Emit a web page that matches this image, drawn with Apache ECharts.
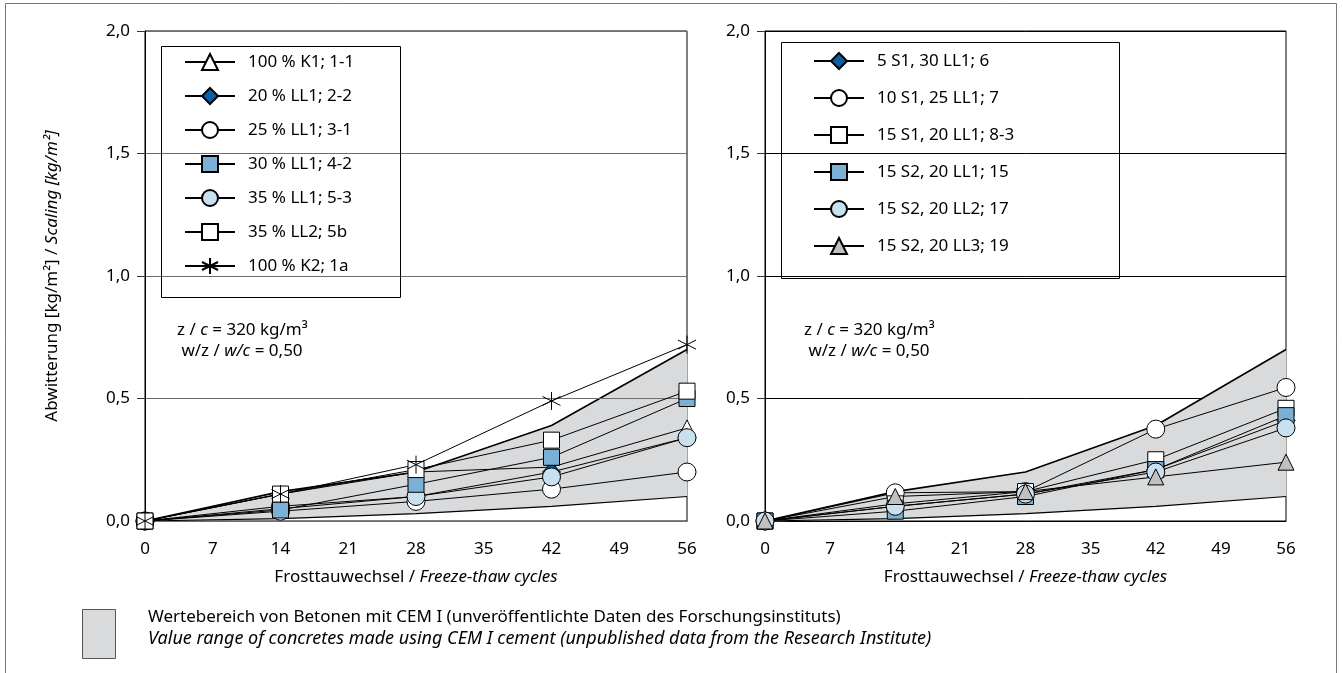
<!DOCTYPE html>
<html>
<head>
<meta charset="utf-8">
<script src="https://cdn.jsdelivr.net/npm/echarts@6/dist/echarts.min.js"></script>
<style>
  html, body { margin: 0; padding: 0; background: #fff; }
  #chart { width: 1343px; height: 673px; }
</style>
</head>
<body>
<div id="chart"></div>
<script>
  // Frosttauwechsel (x)
  var cycles = [0, 14, 28, 42, 56];
  var xTicks = [0, 7, 14, 21, 28, 35, 42, 49, 56];

  // Wertebereich CEM I (grau)
  var bandLower = [0, 0.01, 0.03, 0.06, 0.10];
  var bandUpper = [0, 0.12, 0.20, 0.39, 0.70];

  // linkes Diagramm
  var k1_11   = [0, 0.11, 0.20, 0.22, 0.38];
  var ll1_22  = [0, 0.05, 0.10, 0.20, 0.34];
  var ll1_31  = [0, 0.04, 0.08, 0.13, 0.20];
  var ll1_42  = [0, 0.045, 0.15, 0.26, 0.50];
  var ll1_53  = [0, 0.06, 0.10, 0.18, 0.34];
  var ll2_5b  = [0, 0.11, 0.21, 0.33, 0.53];
  var k2_1a   = [0, 0.11, 0.23, 0.49, 0.72];

  // rechtes Diagramm
  var s1_6    = [0, 0.06, 0.11, 0.21, 0.41];
  var s1_7    = [0, 0.115, 0.12, 0.375, 0.545];
  var s1_83   = [0, 0.07, 0.12, 0.25, 0.46];
  var s2_15   = [0, 0.04, 0.10, 0.21, 0.43];
  var s2_17   = [0, 0.06, 0.11, 0.20, 0.38];
  var s2_19   = [0, 0.10, 0.12, 0.18, 0.24];

  var FONT = 'Noto Sans';
  var FS = 17;
  var star = 'path://M5,0L5,10M0.7,2.5L9.3,7.5M0.7,7.5L9.3,2.5';

  function pts(arr) {
    return cycles.map(function (c, i) { return [c, arr[i]]; });
  }

  function line(name, arr, idx, symbol, fill, size) {
    return {
      name: name,
      type: 'line',
      xAxisIndex: idx,
      yAxisIndex: idx,
      data: pts(arr),
      z: 3,
      symbol: symbol,
      symbolSize: size || 16,
      showAllSymbol: true,
      clip: false,
      lineStyle: { color: '#000', width: 1 },
      itemStyle: { color: fill, borderColor: '#000', borderWidth: 1 },
      emphasis: { disabled: true }
    };
  }

  // grauer Bereich: ein Viereck je Intervall, über die Achsen umgerechnet
  function band(idx) {
    var segs = [];
    for (var i = 0; i < cycles.length - 1; i++) {
      segs.push([cycles[i], cycles[i + 1], bandLower[i], bandLower[i + 1], bandUpper[i], bandUpper[i + 1]]);
    }
    return [{
      type: 'custom', xAxisIndex: idx, yAxisIndex: idx, z: 1, silent: true,
      data: segs,
      encode: { x: [0, 1], y: [2, 3, 4, 5] },
      renderItem: function (params, api) {
        var a = api.coord([api.value(0), api.value(4)]);
        var b = api.coord([api.value(1), api.value(5)]);
        var c = api.coord([api.value(1), api.value(3)]);
        var d = api.coord([api.value(0), api.value(2)]);
        return {
          type: 'polygon',
          shape: { points: [a, b, c, d] },
          style: { fill: '#d9dadc', stroke: '#d9dadc', lineWidth: 0.8 }
        };
      }
    }, {
      type: 'line', xAxisIndex: idx, yAxisIndex: idx, data: pts(bandLower),
      symbol: 'none', z: 1, silent: true, lineStyle: { color: '#000', width: 1.2 }
    }, {
      type: 'line', xAxisIndex: idx, yAxisIndex: idx, data: pts(bandUpper),
      symbol: 'none', z: 1, silent: true, lineStyle: { color: '#000', width: 1.6 }
    }];
  }

  function fmt(v) { return v.toFixed(1).replace('.', ','); }

  var richI = { i: { fontStyle: 'italic', fontFamily: FONT, fontSize: FS, color: '#000' } };

  function xAxis(idx) {
    return {
      type: 'value', gridIndex: idx, min: 0, max: 56, interval: 7,
      axisLine: { show: true, lineStyle: { color: '#000' } },
      axisTick: { show: false },
      splitLine: { show: false },
      axisLabel: { color: '#000', fontFamily: FONT, fontSize: FS, margin: 20,
        customValues: xTicks },
      name: 'Frosttauwechsel / {i|Freeze-thaw cycles}',
      nameLocation: 'middle', nameGap: 48,
      nameTextStyle: { color: '#000', fontFamily: FONT, fontSize: FS, rich: richI }
    };
  }

  function yAxis(idx, gridColor, withName, z) {
    var a = {
      type: 'value', gridIndex: idx, min: 0, max: 2, interval: 0.5, z: z,
      axisLine: { show: true, lineStyle: { color: '#000' } },
      axisTick: { show: true, length: 8, lineStyle: { color: '#333' } },
      splitLine: { show: true, lineStyle: { color: gridColor, width: 1 } },
      axisLabel: { color: '#000', fontFamily: FONT, fontSize: FS, margin: 15, formatter: fmt }
    };
    if (withName) {
      a.name = 'Abwitterung [kg/m²] / {i|Scaling [kg/m²]}';
      a.nameLocation = 'middle';
      a.nameGap = 84;
      a.nameTextStyle = { color: '#000', fontFamily: FONT, fontSize: FS, rich: richI };
    }
    return a;
  }

  var leftNames = ['100 % K1; 1-1', '20 % LL1; 2-2', '25 % LL1; 3-1', '30 % LL1; 4-2',
                   '35 % LL1; 5-3', '35 % LL2; 5b', '100 % K2; 1a'];
  var rightNames = ['5 S1, 30 LL1; 6', '10 S1, 25 LL1; 7', '15 S1, 20 LL1; 8-3',
                    '15 S2, 20 LL1; 15', '15 S2, 20 LL2; 17', '15 S2, 20 LL3; 19'];

  var series = [].concat(
    band(0),
    [
      line(leftNames[0], k1_11, 0, 'triangle', '#fff', 16),
      line(leftNames[1], ll1_22, 0, 'diamond', '#0b5fa5', 18),
      line(leftNames[2], ll1_31, 0, 'circle', '#fff', 18),
      line(leftNames[4], ll1_53, 0, 'circle', '#c9e0f0', 18),
      line(leftNames[3], ll1_42, 0, 'rect', '#7bafd4', 16),
      line(leftNames[5], ll2_5b, 0, 'rect', '#fff', 16),
      line(leftNames[6], k2_1a, 0, star, '#000', 18)
    ],
    band(1),
    [
      line(rightNames[0], s1_6, 1, 'diamond', '#0b5fa5', 18),
      line(rightNames[1], s1_7, 1, 'circle', '#fff', 18),
      line(rightNames[2], s1_83, 1, 'rect', '#fff', 16),
      line(rightNames[3], s2_15, 1, 'rect', '#7bafd4', 16),
      line(rightNames[4], s2_17, 1, 'circle', '#c9e0f0', 18),
      line(rightNames[5], s2_19, 1, 'triangle', '#c0c0c0', 16)
    ]
  );

  var legendText = { color: '#000', fontFamily: FONT, fontSize: FS, padding: [0, 0, 0, 8] };
  var noteText = 'z / {i|c} = 320 kg/m³\n w/z / {i|w/c} = 0,50';

  var option = {
    animation: false,
    backgroundColor: '#fff',
    grid: [
      { left: 145, top: 31, width: 542, height: 490, show: true, borderColor: '#000', borderWidth: 1 },
      { left: 765, top: 31, width: 521, height: 490, show: true, borderColor: '#000', borderWidth: 1 }
    ],
    xAxis: [xAxis(0), xAxis(1)],
    yAxis: [yAxis(0, '#6e6e6e', true, 2), yAxis(1, '#000', false, 0)],
    legend: [
      { data: leftNames, orient: 'vertical', left: 184, top: 53, padding: 0,
        itemWidth: 50, itemHeight: 20, itemGap: 16, selectedMode: false, textStyle: legendText },
      { data: rightNames, orient: 'vertical', left: 813, top: 52, padding: 0,
        itemWidth: 50, itemHeight: 20, itemGap: 19, selectedMode: false, textStyle: legendText }
    ],
    graphic: [
      { type: 'polyline', z: 0, silent: true,
        shape: { points: [[5.5, 680], [5.5, 3.5], [1336.5, 3.5], [1336.5, 680]] },
        style: { stroke: '#777', fill: null, lineWidth: 1 } },
      { type: 'rect', z: 5, silent: true, shape: { x: 161.5, y: 46.5, width: 239, height: 251 },
        style: { stroke: '#000', fill: 'rgba(255,255,255,0)', lineWidth: 1 } },
      { type: 'rect', z: 5, silent: true, shape: { x: 781.5, y: 42.5, width: 338, height: 236 },
        style: { stroke: '#000', fill: 'rgba(255,255,255,0)', lineWidth: 1 } },
      { type: 'text', left: 177, top: 320, z: 5, silent: true,
        style: { text: noteText, fill: '#000', font: FS + 'px "Noto Sans"', lineHeight: 21, rich: richI } },
      { type: 'text', left: 804, top: 320, z: 5, silent: true,
        style: { text: noteText, fill: '#000', font: FS + 'px "Noto Sans"', lineHeight: 21, rich: richI } },
      { type: 'rect', silent: true, shape: { x: 82.5, y: 609.5, width: 33, height: 49 },
        style: { fill: '#d9dadc', stroke: '#555', lineWidth: 1 } },
      { type: 'text', left: 148, top: 609, silent: true,
        style: { text: 'Wertebereich von Betonen mit CEM I (unveröffentlichte Daten des Forschungsinstituts)',
          fill: '#000', font: FS + 'px "Noto Sans"' } },
      { type: 'text', left: 148, top: 630, silent: true,
        style: { text: 'Value range of concretes made using CEM I cement (unpublished data from the Research Institute)',
          fill: '#000', font: 'italic 18px "Noto Sans"' } }
    ],
    series: series
  };

  var chart = echarts.init(document.getElementById('chart'));
  chart.setOption(option);
</script>
</body>
</html>
